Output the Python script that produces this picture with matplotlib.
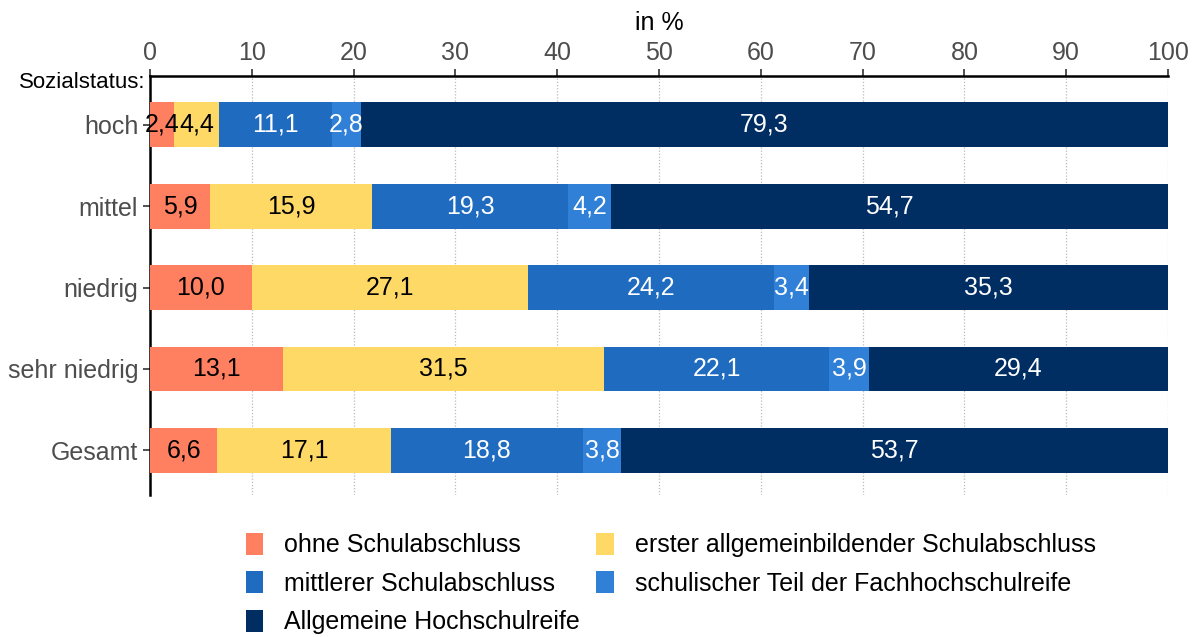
import numpy as np
import matplotlib
matplotlib.use("Agg")
import matplotlib.pyplot as plt
from matplotlib.patches import Patch

plt.rcParams['font.family'] = ['Liberation Sans', 'DejaVu Sans']

# Anteile je Sozialstatus, in %
gruppen = ["hoch", "mittel", "niedrig", "sehr niedrig", "Gesamt"]
kategorien = ["ohne Schulabschluss", "erster allgemeinbildender Schulabschluss",
              "mittlerer Schulabschluss", "schulischer Teil der Fachhochschulreife",
              "Allgemeine Hochschulreife"]
ohne = [2.4, 5.9, 10.0, 13.1, 6.6]
erster = [4.4, 15.9, 27.1, 31.5, 17.1]
mittlerer = [11.1, 19.3, 24.2, 22.1, 18.8]
schulisch = [2.8, 4.2, 3.4, 3.9, 3.8]
allgemein = [79.3, 54.7, 35.3, 29.4, 53.7]

farben = ["#FF7F61", "#FFD966", "#1F6BBF", "#2F80D6", "#002D62"]
textfarben = ["black", "black", "white", "white", "white"]

werte = np.array([ohne, erster, mittlerer, schulisch, allgemein])

fig = plt.figure(figsize=(11.98, 6.37), dpi=100)
ax = fig.add_axes([0.1252, 0.2229, 0.8498, 0.6578])

y = np.arange(len(gruppen))
links = np.zeros(len(gruppen))
for i, reihe in enumerate(werte):
    bars = ax.barh(y, reihe, left=links, height=0.55, color=farben[i],
                   label=kategorien[i], zorder=3)
    for j, b in enumerate(bars):
        wert = reihe[j]
        ax.text(links[j] + wert / 2, y[j], f"{wert:.1f}".replace(".", ","),
                ha="center", va="center", fontsize=18, color=textfarben[i],
                zorder=4)
    links += reihe

ax.set_xlim(0, 100)
ax.set_ylim(4.55, -0.6)
ax.set_yticks(y)
ax.set_yticklabels(gruppen)
ax.set_xticks(np.arange(0, 101, 10))
ax.xaxis.tick_top()
ax.xaxis.set_label_position("top")
ax.set_xlabel("in %", fontsize=18, labelpad=8)
ax.tick_params(axis="both", labelsize=18, labelcolor="#4D4D4D", color="#333333",
               length=5, width=1.2)
ax.tick_params(axis="x", pad=3)

ax.grid(axis="x", color="#BBBBBB", linestyle=(0, (1, 1.5)), linewidth=0.9, zorder=0)
for s in ["right", "bottom"]:
    ax.spines[s].set_visible(False)
for s in ["top", "left"]:
    ax.spines[s].set_linewidth(1.8)
    ax.spines[s].set_color("black")

fig.text(145 / 1198, 1 - 82 / 637, "Sozialstatus:", ha="right", va="center",
         fontsize=16, color="black")

# Legende zeilenweise: matplotlib füllt spaltenweise, daher umsortieren
reihenfolge = [0, 2, 4, 1, 3]
griffe = [Patch(facecolor=farben[k], edgecolor="none") for k in reihenfolge]
namen = [kategorien[k] for k in reihenfolge]
fig.legend(griffe, namen, loc="upper left", bbox_to_anchor=(223 / 1198, 1 - 510 / 637),
           ncol=2, frameon=False, fontsize=18, handlelength=0.7, handleheight=1.0,
           handletextpad=0.85, columnspacing=0.65, labelspacing=0.55)

fig.savefig("out.png", dpi=100)
